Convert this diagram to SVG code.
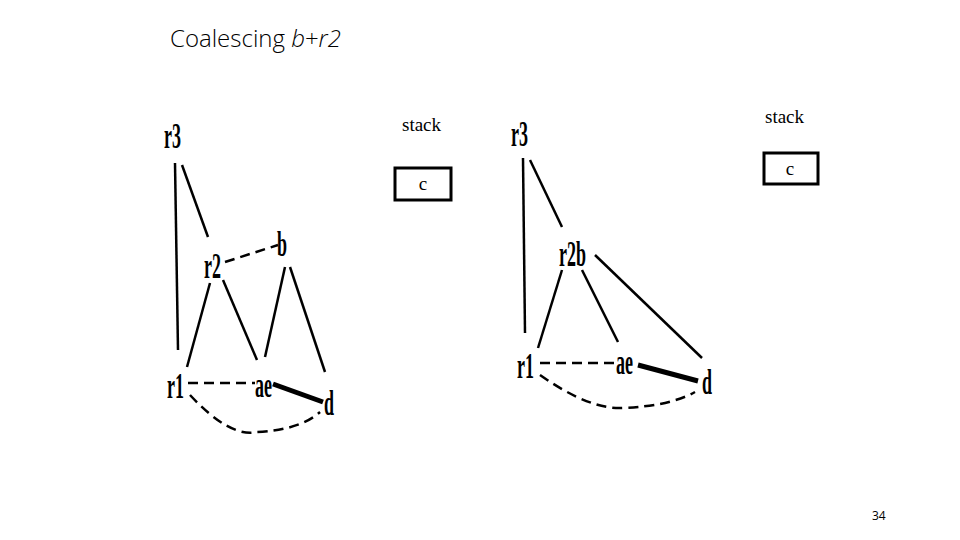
<svg xmlns="http://www.w3.org/2000/svg" width="960" height="540" viewBox="0 0 960 540">
<style>
.n{font-family:"Liberation Serif","Times New Roman",serif;font-size:36px;font-weight:bold;fill:#000}
.s{font-family:"Liberation Serif","Times New Roman",serif;font-size:19px;fill:#000}
.e{stroke:#000;stroke-width:2.5;fill:none;stroke-linecap:butt}
.d{stroke:#000;stroke-width:2.5;fill:none;stroke-dasharray:10 6}
.t{stroke:#000;stroke-width:5;fill:none}
.box{fill:#fff;stroke:#000;stroke-width:3}
</style>
<rect width="960" height="540" fill="#fff"/>
<text x="170" y="47" font-family="'Open Sans','Noto Sans',sans-serif" font-weight="300" font-size="24" fill="#000">Coalescing <tspan font-style="italic">b</tspan>+<tspan font-style="italic">r2</tspan></text>
<text x="872" y="520" font-family="'Open Sans','Noto Sans',sans-serif" font-size="12" fill="#000">34</text>

<g id="connectors">
  <!-- left graph -->
  <line class="e" x1="175" y1="163" x2="178" y2="350"/>
  <line class="e" x1="182" y1="165" x2="208" y2="237"/>
  <line class="d" x1="225" y1="262" x2="278" y2="245"/>
  <line class="e" x1="210" y1="283" x2="187" y2="367"/>
  <line class="e" x1="223" y1="280" x2="257" y2="360"/>
  <line class="e" x1="285" y1="267" x2="265" y2="357"/>
  <line class="e" x1="290" y1="267" x2="325" y2="372"/>
  <line class="d" x1="188" y1="383" x2="255" y2="383"/>
  <line class="t" x1="273" y1="384" x2="323" y2="402"/>
  <path class="d" d="M190,395 Q230,438 257,432 Q300,430 320,412"/>
  <!-- right graph -->
  <line class="e" x1="523" y1="158" x2="525" y2="333"/>
  <line class="e" x1="530" y1="160" x2="562" y2="227"/>
  <line class="e" x1="562" y1="270" x2="538" y2="348"/>
  <line class="e" x1="582" y1="270" x2="618" y2="342"/>
  <line class="e" x1="595" y1="255" x2="702" y2="358" stroke-width="4"/>
  <line class="d" x1="540" y1="363" x2="617" y2="363"/>
  <line class="t" x1="638" y1="365" x2="698" y2="381"/>
  <path class="d" d="M540,375 Q590,410 623,408 Q670,406 695,392"/>
</g>

<g id="left-r3"><text class="n" transform="translate(164,148) scale(0.5,1)">r3</text></g>
<g id="left-r2"><text class="n" transform="translate(204,278) scale(0.5,1)">r2</text></g>
<g id="left-b"><text class="n" transform="translate(277,256) scale(0.5,1)">b</text></g>
<g id="left-r1"><text class="n" transform="translate(167,398) scale(0.5,1)">r1</text></g>
<g id="left-ae"><text class="n" transform="translate(255,397) scale(0.5,1)">ae</text></g>
<g id="left-d"><text class="n" transform="translate(324,415) scale(0.5,1)">d</text></g>

<g id="left-stack">
  <text class="s" x="402" y="131">stack</text>
  <rect class="box" x="395" y="168" width="56" height="32"/>
  <text class="s" x="423" y="190" text-anchor="middle">c</text>
</g>

<g id="right-r3"><text class="n" transform="translate(511,146) scale(0.5,1)">r3</text></g>
<g id="right-r2b"><text class="n" transform="translate(559,266) scale(0.5,1)">r2b</text></g>
<g id="right-r1"><text class="n" transform="translate(517,378) scale(0.5,1)">r1</text></g>
<g id="right-ae"><text class="n" transform="translate(616,374) scale(0.5,1)">ae</text></g>
<g id="right-d"><text class="n" transform="translate(702,394) scale(0.5,1)">d</text></g>

<g id="right-stack">
  <text class="s" x="765" y="123">stack</text>
  <rect class="box" x="764" y="153" width="54" height="31"/>
  <text class="s" x="790" y="175" text-anchor="middle">c</text>
</g>
</svg>
